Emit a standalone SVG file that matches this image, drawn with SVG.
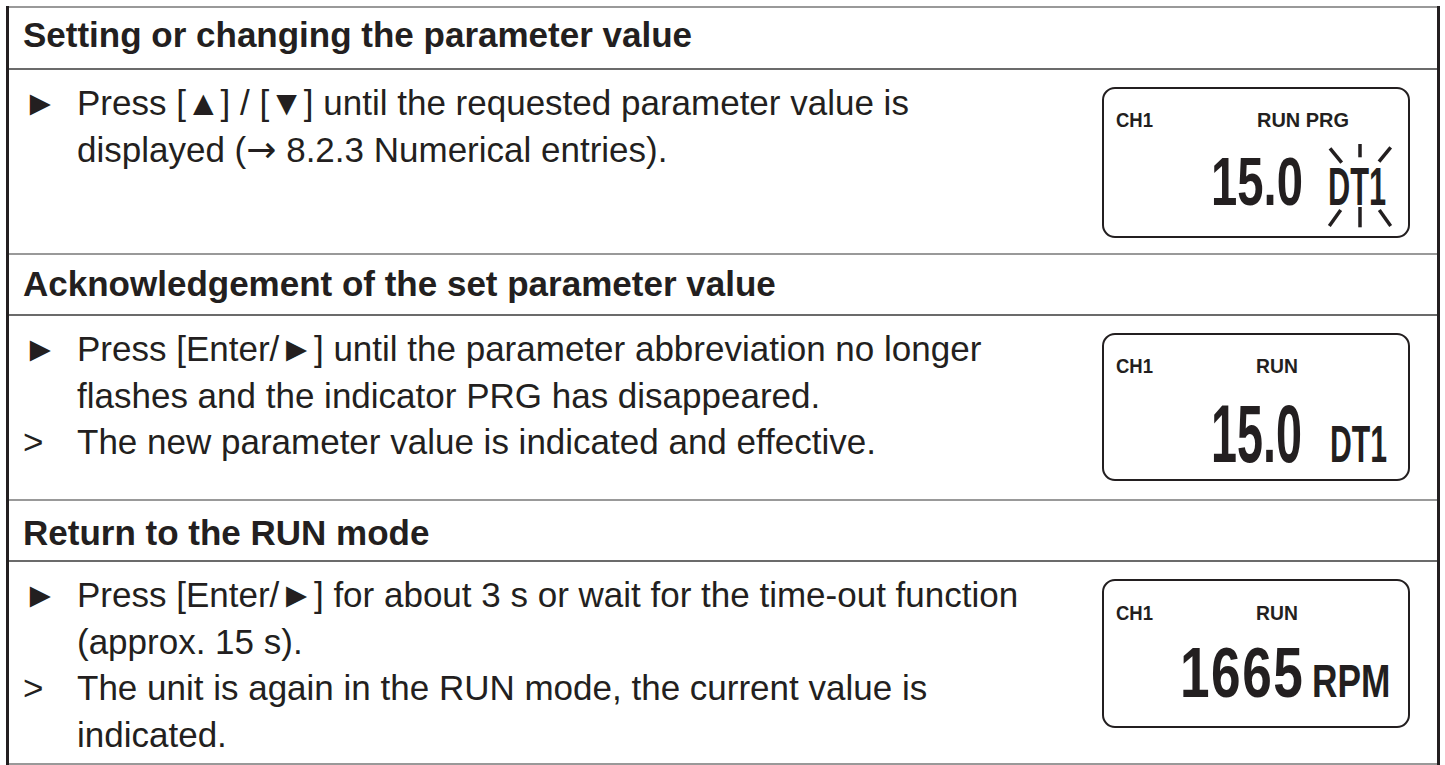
<svg xmlns="http://www.w3.org/2000/svg" width="1445" height="765" viewBox="0 0 1445 765">
<style>
.bg{fill:#ffffff}
.hdr{font-family:"Liberation Sans",Arial,sans-serif;font-weight:bold;font-size:35px;fill:#231f20}
.body{font-family:"Liberation Sans",Arial,sans-serif;font-size:35px;fill:#231f20}
.arr{font-family:"DejaVu Sans",sans-serif;font-size:36px}
.lt{stroke:#777777;stroke-width:1.5;fill:none}
.ld{stroke:#3a3a3a;stroke-width:1.5;fill:none}
.border{stroke:#231f20;stroke-width:3;fill:none}
.box{fill:#ffffff;stroke:#231f20;stroke-width:2}
.lcd{font-family:"Liberation Sans",Arial,sans-serif;font-weight:bold;fill:#231f20}
.flash{stroke:#231f20;stroke-width:3.5;stroke-linecap:butt}
</style>
<rect class="bg" x="0" y="0" width="1445" height="765"/>
<g id="table">
<line class="lt" x1="6" y1="7" x2="1440" y2="7"/>
<line class="ld" x1="6" y1="69" x2="1440" y2="69"/>
<line class="lt" x1="6" y1="254" x2="1440" y2="254"/>
<line class="ld" x1="6" y1="315" x2="1440" y2="315"/>
<line class="lt" x1="6" y1="500" x2="1440" y2="500"/>
<line class="ld" x1="6" y1="561" x2="1440" y2="561"/>
<line class="lt" x1="6" y1="764" x2="1440" y2="764"/>
<line class="border" x1="7.5" y1="6" x2="7.5" y2="765"/>
<line class="border" x1="1438.5" y1="6" x2="1438.5" y2="765"/>
</g>
<g id="section1">
<text class="hdr" x="23" y="47">Setting or changing the parameter value</text>
<text class="body" x="23" y="115">►</text>
<text class="body" x="77" y="115">Press [▲] / [▼] until the requested parameter value is</text>
<text class="body" x="77" y="161.7">displayed (<tspan class="arr">→</tspan> 8.2.3 Numerical entries).</text>
</g>
<g id="display1">
<rect class="box" x="1103" y="88" width="306" height="149" rx="12"/>
<text class="lcd" font-size="21" transform="translate(1116,127) scale(0.88,1)">CH1</text>
<text class="lcd" font-size="21" transform="translate(1257,127) scale(0.95,1)">RUN PRG</text>
<text class="lcd" font-size="68" transform="translate(1211,205) scale(0.695,1)">15.0</text>
<text class="lcd" font-size="53" transform="translate(1328,205) scale(0.58,1)">DT1</text>
<line class="flash" x1="1330" y1="148.3" x2="1341.7" y2="162.7"/>
<line class="flash" x1="1360" y1="144" x2="1360" y2="157.3"/>
<line class="flash" x1="1390.7" y1="147.3" x2="1379" y2="161.7"/>
<line class="flash" x1="1340.7" y1="210" x2="1329.3" y2="226"/>
<line class="flash" x1="1360" y1="207" x2="1360" y2="227.3"/>
<line class="flash" x1="1379.3" y1="210" x2="1390.7" y2="226"/>
</g>
<g id="section2">
<text class="hdr" x="23" y="296">Acknowledgement of the set parameter value</text>
<text class="body" x="23" y="361">►</text>
<text class="body" x="77" y="361">Press [Enter/►] until the parameter abbreviation no longer</text>
<text class="body" x="77" y="407.7">flashes and the indicator PRG has disappeared.</text>
<text class="body" x="23" y="454.3">&gt;</text>
<text class="body" x="77" y="454.3">The new parameter value is indicated and effective.</text>
</g>
<g id="display2">
<rect class="box" x="1103" y="334" width="306" height="146" rx="12"/>
<text class="lcd" font-size="21" transform="translate(1116,373) scale(0.88,1)">CH1</text>
<text class="lcd" font-size="21" transform="translate(1256,373) scale(0.92,1)">RUN</text>
<text class="lcd" font-size="82" transform="translate(1211,462) scale(0.57,1)">15.0</text>
<text class="lcd" font-size="52" transform="translate(1330,462) scale(0.58,1)">DT1</text>
</g>
<g id="section3">
<text class="hdr" x="23" y="545">Return to the RUN mode</text>
<text class="body" x="23" y="607">►</text>
<text class="body" x="77" y="607">Press [Enter/►] for about 3 s or wait for the time-out function</text>
<text class="body" x="77" y="653.7">(approx. 15 s).</text>
<text class="body" x="23" y="700.3">&gt;</text>
<text class="body" x="77" y="700.3">The unit is again in the RUN mode, the current value is</text>
<text class="body" x="77" y="747">indicated.</text>
</g>
<g id="display3">
<rect class="box" x="1103" y="580" width="306" height="147" rx="12"/>
<text class="lcd" font-size="21" transform="translate(1116,620) scale(0.88,1)">CH1</text>
<text class="lcd" font-size="21" transform="translate(1256,620) scale(0.92,1)">RUN</text>
<text class="lcd" font-size="70" letter-spacing="2" transform="translate(1180,697) scale(0.76,1)">1665</text>
<text class="lcd" font-size="47" transform="translate(1312,697) scale(0.75,1)">RPM</text>
</g>
<g id="connectors"/>
</svg>
